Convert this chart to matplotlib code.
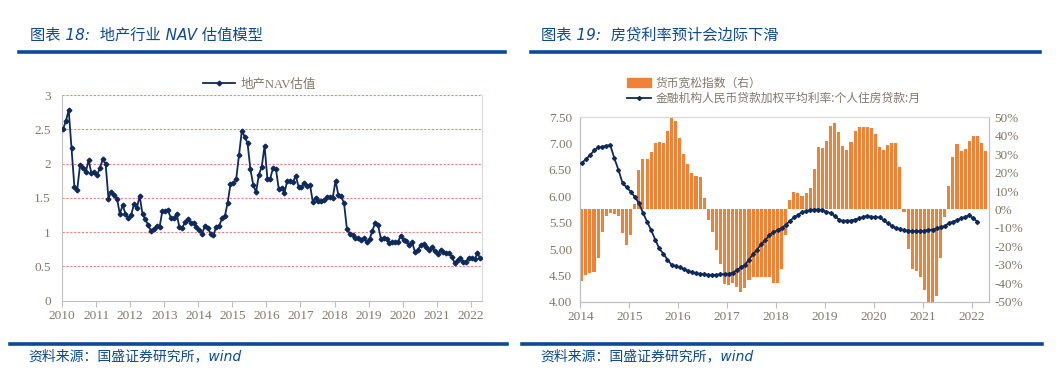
import matplotlib
matplotlib.use("Agg")
import matplotlib.pyplot as plt
import numpy as np
from matplotlib.lines import Line2D
from matplotlib.patches import Patch

plt.rcParams['font.family'] = ['Noto Sans CJK SC', 'DejaVu Sans']

# ---------------- Data ----------------
# Chart 18: NAV valuation, monthly from 2010-01
nav_start_year = 2010
nav_values = [
    2.50, 2.62, 2.78, 2.23, 1.66, 1.62, 1.98, 1.94, 1.87, 2.05, 1.86, 1.88,
    1.83, 1.94, 2.06, 2.00, 1.49, 1.59, 1.54, 1.49, 1.27, 1.39, 1.27, 1.20,
    1.25, 1.41, 1.35, 1.53, 1.26, 1.19, 1.10, 1.02, 1.05, 1.09, 1.07, 1.31,
    1.31, 1.32, 1.20, 1.20, 1.27, 1.07, 1.06, 1.15, 1.19, 1.14, 1.14, 1.08,
    1.03, 0.98, 1.09, 1.06, 0.98, 0.96, 1.08, 1.09, 1.20, 1.23, 1.43, 1.70,
    1.71, 1.77, 2.12, 2.48, 2.39, 2.30, 1.92, 1.69, 1.58, 1.84, 1.95, 2.26,
    1.78, 1.78, 1.94, 1.92, 1.63, 1.65, 1.57, 1.75, 1.74, 1.73, 1.82, 1.66,
    1.66, 1.71, 1.68, 1.69, 1.44, 1.50, 1.45, 1.46, 1.47, 1.51, 1.51, 1.50,
    1.75, 1.54, 1.52, 1.42, 1.05, 0.98, 0.96, 0.92, 0.91, 0.88, 0.91, 0.86,
    0.90, 1.02, 1.14, 1.10, 0.90, 0.91, 0.90, 0.84, 0.86, 0.85, 0.86, 0.95,
    0.88, 0.87, 0.81, 0.85, 0.71, 0.74, 0.81, 0.82, 0.79, 0.74, 0.78, 0.72,
    0.68, 0.74, 0.71, 0.70, 0.69, 0.64, 0.55, 0.59, 0.62, 0.56, 0.57, 0.63,
    0.62, 0.61, 0.69, 0.62,
]
nav_label = "地产NAV估值"
nav_years = list(range(2010, 2023))
nav_yticks = [0, 0.5, 1, 1.5, 2, 2.5, 3]

# Chart 19: monetary easing index (%), monthly from 2014-01
ease_start_year = 2014
ease_values = [
    -38.6, -35.5, -34.4, -34.0, -26.5, -12.0, -3.4, -1.7, -2.4, -3.3, -12.8, -19.5,
    -13.8, 3.0, 21.4, 27.2, 27.2, 31.0, 36.0, 36.6, 35.8, 42.5, 50.0, 48.2,
    38.8, 30.0, 24.6, 19.8, 18.0, 17.8, 6.0, -5.7, -12.0, -21.9, -29.5, -40.3,
    -40.9, -39.6, -41.8, -45.0, -42.3, -38.2, -36.7, -36.7, -36.4, -36.4, -36.4, -39.6,
    -39.6, -32.4, -13.6, 5.1, 9.5, 8.8, 7.3, 8.8, 11.6, 21.8, 33.7, 33.6,
    37.1, 45.2, 47.0, 41.8, 34.4, 32.2, 36.5, 42.7, 44.5, 44.5, 44.5, 44.0,
    40.9, 34.0, 32.2, 34.9, 36.0, 36.0, 22.8, -1.2, -21.4, -32.4, -33.3, -36.7,
    -43.9, -50.0, -50.0, -46.8, -26.5, -3.9, 12.7, 28.6, 35.5, 31.7, 32.6, 37.1,
    39.8, 39.6, 35.8, 31.5,
]
# Weighted average mortgage rate (%), monthly from 2014-01
rate_values = [
    6.64, 6.70, 6.78, 6.87, 6.93, 6.94, 6.96, 6.97, 6.72, 6.50, 6.25, 6.17,
    6.09, 5.99, 5.87, 5.69, 5.52, 5.36, 5.18, 5.01, 4.91, 4.80, 4.70, 4.68,
    4.65, 4.62, 4.59, 4.56, 4.54, 4.53, 4.52, 4.51, 4.51, 4.51, 4.52, 4.52,
    4.53, 4.55, 4.60, 4.65, 4.70, 4.80, 4.90, 4.99, 5.09, 5.17, 5.26, 5.32,
    5.36, 5.40, 5.46, 5.53, 5.60, 5.65, 5.70, 5.72, 5.74, 5.75, 5.75, 5.74,
    5.71, 5.68, 5.63, 5.56, 5.53, 5.54, 5.54, 5.56, 5.58, 5.61, 5.63, 5.61,
    5.61, 5.60, 5.55, 5.49, 5.44, 5.40, 5.38, 5.36, 5.35, 5.34, 5.34, 5.34,
    5.35, 5.36, 5.37, 5.39, 5.41, 5.44, 5.49, 5.52, 5.55, 5.58, 5.61, 5.64,
    5.58, 5.52,
]
ease_label = "货币宽松指数（右）"
rate_label = "金融机构人民币贷款加权平均利率:个人住房贷款:月"
rate_years = list(range(2014, 2023))
rate_yticks = [4.0, 4.5, 5.0, 5.5, 6.0, 6.5, 7.0, 7.5]
ease_yticks = [-50, -40, -30, -20, -10, 0, 10, 20, 30, 40, 50]

title_left = "图表 18:  地产行业 NAV 估值模型"
title_right = "图表 19:  房贷利率预计会边际下滑"
source_text = "资料来源：国盛证券研究所，wind"

# ---------------- Style ----------------
W, H = 1060, 384
BLUE = '#0B4A9A'
NAVY = '#0E2A5C'
ORANGE = '#EE8236'
TICK = '#847868'
SPINE = '#BFBFBF'
GRID = '#F08080'
num_font = dict(family=['Liberation Serif', 'DejaVu Serif'], size=9.5, color=TICK)
head_family = ['DejaVu Sans', 'Noto Sans CJK SC']

fig = plt.figure(figsize=(W / 100, H / 100), dpi=100)
fig.patch.set_facecolor('white')

def fx(px):
    return px / W

def fy(py):
    return 1 - py / H

# header / footer rules
for x0, x1 in [(19, 505), (531, 1040)]:
    fig.add_artist(Line2D([fx(x0), fx(x1)], [fy(52), fy(52)], color=BLUE, lw=2.6))
    fig.add_artist(Line2D([fx(x0 - 9), fx(x1 + 2)], [fy(344), fy(344)], color=BLUE, lw=2.6))

fig.text(fx(30), fy(35), title_left, color=BLUE, fontsize=11, style='italic', va='center',
         family=head_family)
fig.text(fx(541), fy(35), title_right, color=BLUE, fontsize=11, style='italic', va='center',
         family=head_family)
fig.text(fx(28), fy(356), source_text, color=BLUE, fontsize=10, style='italic', va='center',
         family=head_family)
fig.text(fx(540), fy(356), source_text, color=BLUE, fontsize=10, style='italic', va='center',
         family=head_family)

# ---------------- Left chart ----------------
axL = fig.add_axes([fx(62), fy(300.7), fx(482) - fx(62), fy(95) - fy(300.7)])
n = len(nav_values)
x_nav = nav_start_year + np.arange(n) / 12 + 0.03
axL.plot(x_nav, nav_values, color=NAVY, lw=1.3, marker='D', ms=2.4, label=nav_label, zorder=3)
axL.set_xlim(2010, 2022.33)
axL.set_ylim(0, 3)
axL.set_yticks(nav_yticks)
axL.set_yticklabels([f"{v:g}" for v in nav_yticks], **num_font)
axL.set_xticks(nav_years)
axL.set_xticklabels([str(y) for y in nav_years], **num_font)
for v in nav_yticks[1:]:
    axL.axhline(v, color=GRID, lw=0.8, ls=(0, (2, 1.5)), zorder=1)
axL.tick_params(axis='y', length=0, pad=8)
axL.tick_params(axis='x', length=4, color=SPINE, direction='out', pad=3)
for s in ['left', 'bottom']:
    axL.spines[s].set_color(SPINE)
axL.spines['right'].set_color('#D9D9D9')
axL.spines['top'].set_visible(False)
axL.legend(loc='center', bbox_to_anchor=(0.47, 1.05), frameon=False,
           prop=dict(family=['Liberation Serif', 'Noto Sans CJK SC'], size=9),
           labelcolor=TICK, handlelength=2.6, handletextpad=0.4, borderpad=0)

# ---------------- Right chart ----------------
axR = fig.add_axes([fx(580.3), fy(301.7), fx(989) - fx(580.3), fy(117.3) - fy(301.7)])
axB = axR.twinx()
m = len(ease_values)
x_ease = ease_start_year + np.arange(m) / 12 + 0.03
axB.bar(x_ease, ease_values, width=0.75 / 12, color=ORANGE, zorder=2)
axB.set_ylim(-50, 50)
axB.set_yticks(ease_yticks)
axB.set_yticklabels([f"{v}%" for v in ease_yticks], **num_font)
axB.tick_params(axis='y', length=0, pad=4)

r = len(rate_values)
x_rate = ease_start_year + np.arange(r) / 12 + 0.03
axR.plot(x_rate, rate_values, color=NAVY, lw=1.3, marker='D', ms=2.0, zorder=3)
axR.set_zorder(axB.get_zorder() + 1)
axR.patch.set_visible(False)
axR.set_ylim(4.0, 7.5)
axR.set_yticks(rate_yticks)
axR.set_yticklabels([f"{v:.2f}" for v in rate_yticks], **num_font)
axR.set_xlim(2014, 2022.35)
axR.set_xticks(rate_years)
axR.set_xticklabels([str(y) for y in rate_years], **num_font)
axR.tick_params(axis='y', length=0, pad=6)
axR.tick_params(axis='x', length=4, color=SPINE, direction='out', pad=3)
for a in (axR, axB):
    for s in a.spines.values():
        s.set_color(SPINE)
    a.spines['top'].set_color('#D9D9D9')

handles = [Patch(color=ORANGE), Line2D([], [], color=NAVY, lw=1.3, marker='D', ms=2.0)]
axR.legend(handles, [ease_label, rate_label], loc='lower left',
           bbox_to_anchor=(fx(621), fy(111)), bbox_transform=fig.transFigure,
           frameon=False, prop=dict(family=['Noto Sans CJK SC', 'DejaVu Sans'], size=8.5),
           labelcolor=TICK, handlelength=2.0, handleheight=0.8, handletextpad=0.4,
           labelspacing=0.2, borderpad=0)

fig.savefig('out.png', dpi=100, facecolor='white')
